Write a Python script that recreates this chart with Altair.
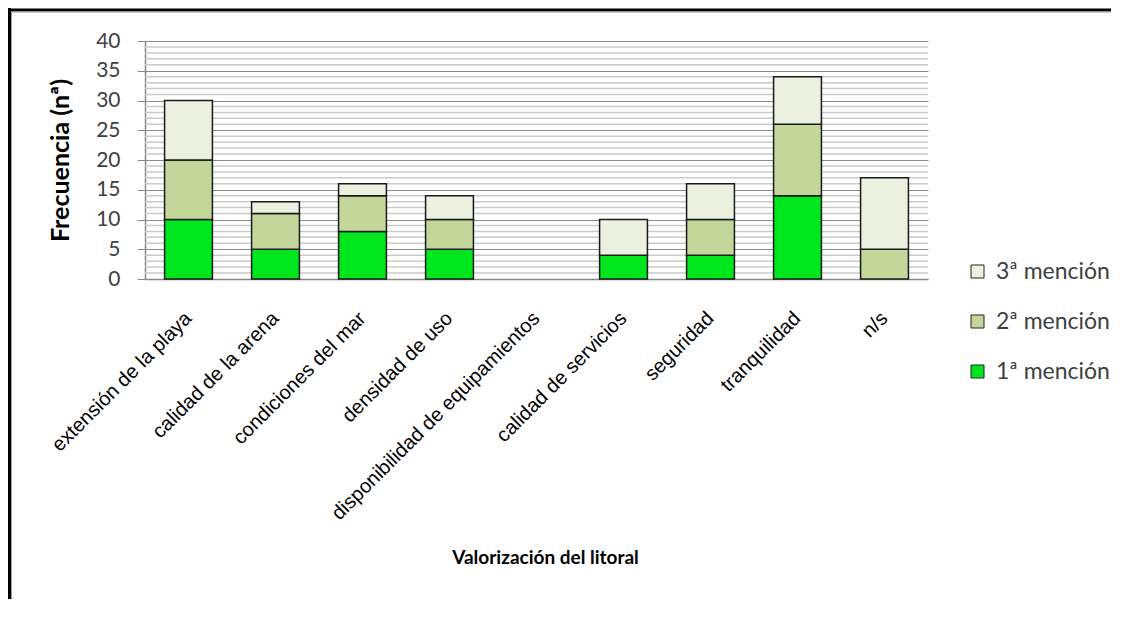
import altair as alt
import pandas as pd

categories = [
    "extensión de la playa",
    "calidad de la arena",
    "condiciones del mar",
    "densidad de uso",
    "disponibilidad de equipamientos",
    "calidad de servicios",
    "seguridad",
    "tranquilidad",
    "n/s",
]
mencion1 = [10, 5, 8, 5, 0, 4, 4, 14, 0]
mencion2 = [10, 6, 6, 5, 0, 0, 6, 12, 5]
mencion3 = [10, 2, 2, 4, 0, 6, 6, 8, 12]
series = ["1ª mención", "2ª mención", "3ª mención"]
colors = ["#00E61E", "#C4D79B", "#EBF1DE"]
major_ticks = list(range(0, 41, 5))
minor_ticks = [v for v in range(0, 41) if v % 5]

rows = []
for i, c in enumerate(categories):
    for r, (s, vals) in enumerate(zip(series, [mencion1, mencion2, mencion3])):
        rows.append({"cat": c, "serie": s, "rank": r + 1, "value": vals[i]})
df = pd.DataFrame(rows)

yscale = alt.Scale(domain=[0, 40], nice=False)
y_axis = alt.Axis(
    values=major_ticks,
    title="Frecuencia (nª)",
    titleFont="Lato",
    titleFontSize=25,
    titleFontWeight="bold",
    titleColor="black",
    titleX=-85,
    titleY=119,
    titleBaseline="middle",
    titleAlign="center",
    labelFont="Lato",
    labelFontSize=21,
    labelColor="#404040",
    labelPadding=17,
    tickSize=8,
    tickColor="#888888",
    domainColor="#888888",
    domainWidth=1.5,
    grid=True,
    gridColor="#8a8a8a",
    gridWidth=1.2,
)

grid = alt.Chart(pd.DataFrame({"value": minor_ticks})).mark_rule(
    color="#cacaca", strokeWidth=1.5
).encode(y=alt.Y("value:Q", scale=yscale, axis=y_axis))

bars = alt.Chart(df).transform_filter("datum.value > 0").mark_bar(
    stroke="#1a1a1a", strokeWidth=1.5
).encode(
    x=alt.X(
        "cat:N",
        sort=categories,
        scale=alt.Scale(domain=categories, paddingInner=0.45, paddingOuter=0.225),
        axis=alt.Axis(
            title="Valorización del litoral",
            titleFont="Lato",
            titleFontSize=19,
            titleFontWeight="bold",
            titleColor="black",
            titleX=400,
            titleY=278,
            titleBaseline="middle",
            titleAlign="center",
            labelAngle=-45,
            labelAlign="right",
            labelBaseline="middle",
            labelPadding=36,
            labelFont="Liberation Sans",
            labelFontSize=20,
            labelColor="black",
            labelLimit=0,
            labelOverlap=False,
            ticks=False,
            domainColor="#888888",
            domainWidth=1.5,
            grid=False,
        ),
    ),
    y=alt.Y("value:Q", stack="zero", scale=yscale, axis=y_axis),
    color=alt.Color(
        "serie:N",
        scale=alt.Scale(domain=series[::-1], range=colors[::-1]),
        legend=alt.Legend(
            title=None,
            orient="none",
            legendX=821,
            legendY=219,
            symbolType="square",
            symbolSize=169,
            symbolStrokeColor="#222222",
            symbolStrokeWidth=1,
            symbolOpacity=1,
            labelFont="Lato",
            labelFontSize=23,
            labelColor="#404040",
            labelOffset=7,
            rowPadding=26,
        ),
    ),
    order=alt.Order("rank:Q", sort="ascending"),
)

one = pd.DataFrame({"a": [0]})
frame_top = alt.Chart(one).mark_rule(color="black", strokeWidth=3).encode(
    x=alt.value(-137), x2=alt.value(966), y=alt.value(-31)
)
frame_top2 = alt.Chart(one).mark_rule(color="#999999", strokeWidth=1).encode(
    x=alt.value(-134), x2=alt.value(966), y=alt.value(-29)
)
frame_left = alt.Chart(one).mark_rule(color="black", strokeWidth=3).encode(
    x=alt.value(-135.5), y=alt.value(-33), y2=alt.value(575)
)
frame_left2 = alt.Chart(one).mark_rule(color="#999999", strokeWidth=1).encode(
    x=alt.value(-133.5), y=alt.value(-30), y2=alt.value(575)
)

chart = alt.layer(grid, bars, frame_top, frame_top2, frame_left, frame_left2).properties(
    width=783,
    height=238,
    autosize=alt.AutoSizeParams(type="none"),
    padding={"left": 137, "top": 33, "right": 185, "bottom": 320},
    background="white",
).configure_view(stroke=None)

chart.save("out.html", embed_options={"renderer": "svg", "actions": False})
